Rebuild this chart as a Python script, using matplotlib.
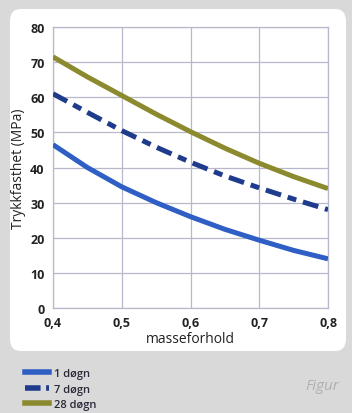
import matplotlib.pyplot as plt
from matplotlib.patches import FancyBboxPatch
from matplotlib.lines import Line2D

# values
masseforhold = [0.40, 0.45, 0.50, 0.55, 0.60, 0.65, 0.70, 0.75, 0.80]
dogn_1 = [46.5, 40.0, 34.5, 30.0, 26.0, 22.4, 19.3, 16.4, 14.0]
dogn_7 = [61.0, 55.7, 50.5, 45.8, 41.5, 37.6, 34.2, 31.0, 28.0]
dogn_28 = [71.5, 65.8, 60.5, 55.2, 50.2, 45.5, 41.2, 37.4, 34.0]
x_ticks = [0.4, 0.5, 0.6, 0.7, 0.8]
x_labels = ["0,4", "0,5", "0,6", "0,7", "0,8"]
y_ticks = [0, 10, 20, 30, 40, 50, 60, 70, 80]

BLUE = "#2f5fc4"
NAVY = "#1f3b8c"
OLIVE = "#8c8a2e"

plt.rcParams['font.family'] = ['Open Sans', 'DejaVu Sans']

W, H = 352, 414
fig = plt.figure(figsize=(W / 100, H / 100), dpi=100)
fig.patch.set_facecolor("#d9d9d9")

# white rounded panel behind the chart
panel = FancyBboxPatch((10 / W, 1 - 352 / H), 336 / W, 342 / H,
                       boxstyle="round,pad=0,rounding_size=0.03",
                       transform=fig.transFigure, facecolor="white",
                       edgecolor="none", zorder=-5)
fig.patches.append(panel)

ax = fig.add_axes([53 / W, 1 - 309 / H, 275 / W, 281 / H])
ax.set_facecolor("white")

ax.plot(masseforhold, dogn_28, color=OLIVE, lw=3.6, solid_capstyle="butt",
        solid_joinstyle="round", zorder=3)
ax.plot(masseforhold, dogn_7, color=NAVY, lw=3.6, linestyle=(0, (3.2, 1.4, 1.8, 1.4)),
        dash_capstyle="butt", zorder=3)
ax.plot(masseforhold, dogn_1, color=BLUE, lw=3.6, solid_capstyle="butt",
        solid_joinstyle="round", zorder=3)

ax.set_xlim(0.4, 0.8)
ax.set_ylim(0, 80)
ax.set_xticks(x_ticks)
ax.set_xticklabels(x_labels)
ax.set_yticks(y_ticks)
ax.grid(True, color="#b8b8cc", lw=0.9)
for s in ax.spines.values():
    s.set_color("#b8b8cc")
    s.set_linewidth(0.9)
ax.tick_params(length=0, pad=6, labelsize=9, labelcolor="#222222")
for lab in ax.get_xticklabels() + ax.get_yticklabels():
    lab.set_fontweight("bold")
ax.set_xlabel("masseforhold", fontsize=10, color="#222222", labelpad=1)
ax.set_ylabel("Trykkfasthet (MPa)", fontsize=10, color="#222222", labelpad=3)

# legend below the panel
handles = [
    Line2D([], [], color=BLUE, lw=4.0),
    Line2D([], [], color=NAVY, lw=4.0, linestyle=(0, (2.8, 1.0, 1.0, 1.0))),
    Line2D([], [], color=OLIVE, lw=4.0),
]
leg = fig.legend(handles, ["1 døgn", "7 døgn", "28 døgn"], loc="upper left",
                 bbox_to_anchor=(25 / W, 1 - 369 / H), frameon=False, fontsize=8,
                 handlelength=2.2, handletextpad=0.4, labelspacing=0.42,
                 borderaxespad=0, borderpad=0, labelcolor="#2a2a3a")
for t in leg.get_texts():
    t.set_fontweight("semibold")

fig.text(305 / W, 1 - 387 / H, "Figur", fontsize=11, color="#b0b0b0",
         style="italic", va="center", ha="left")

fig.savefig("out.png", dpi=100, facecolor=fig.get_facecolor())
